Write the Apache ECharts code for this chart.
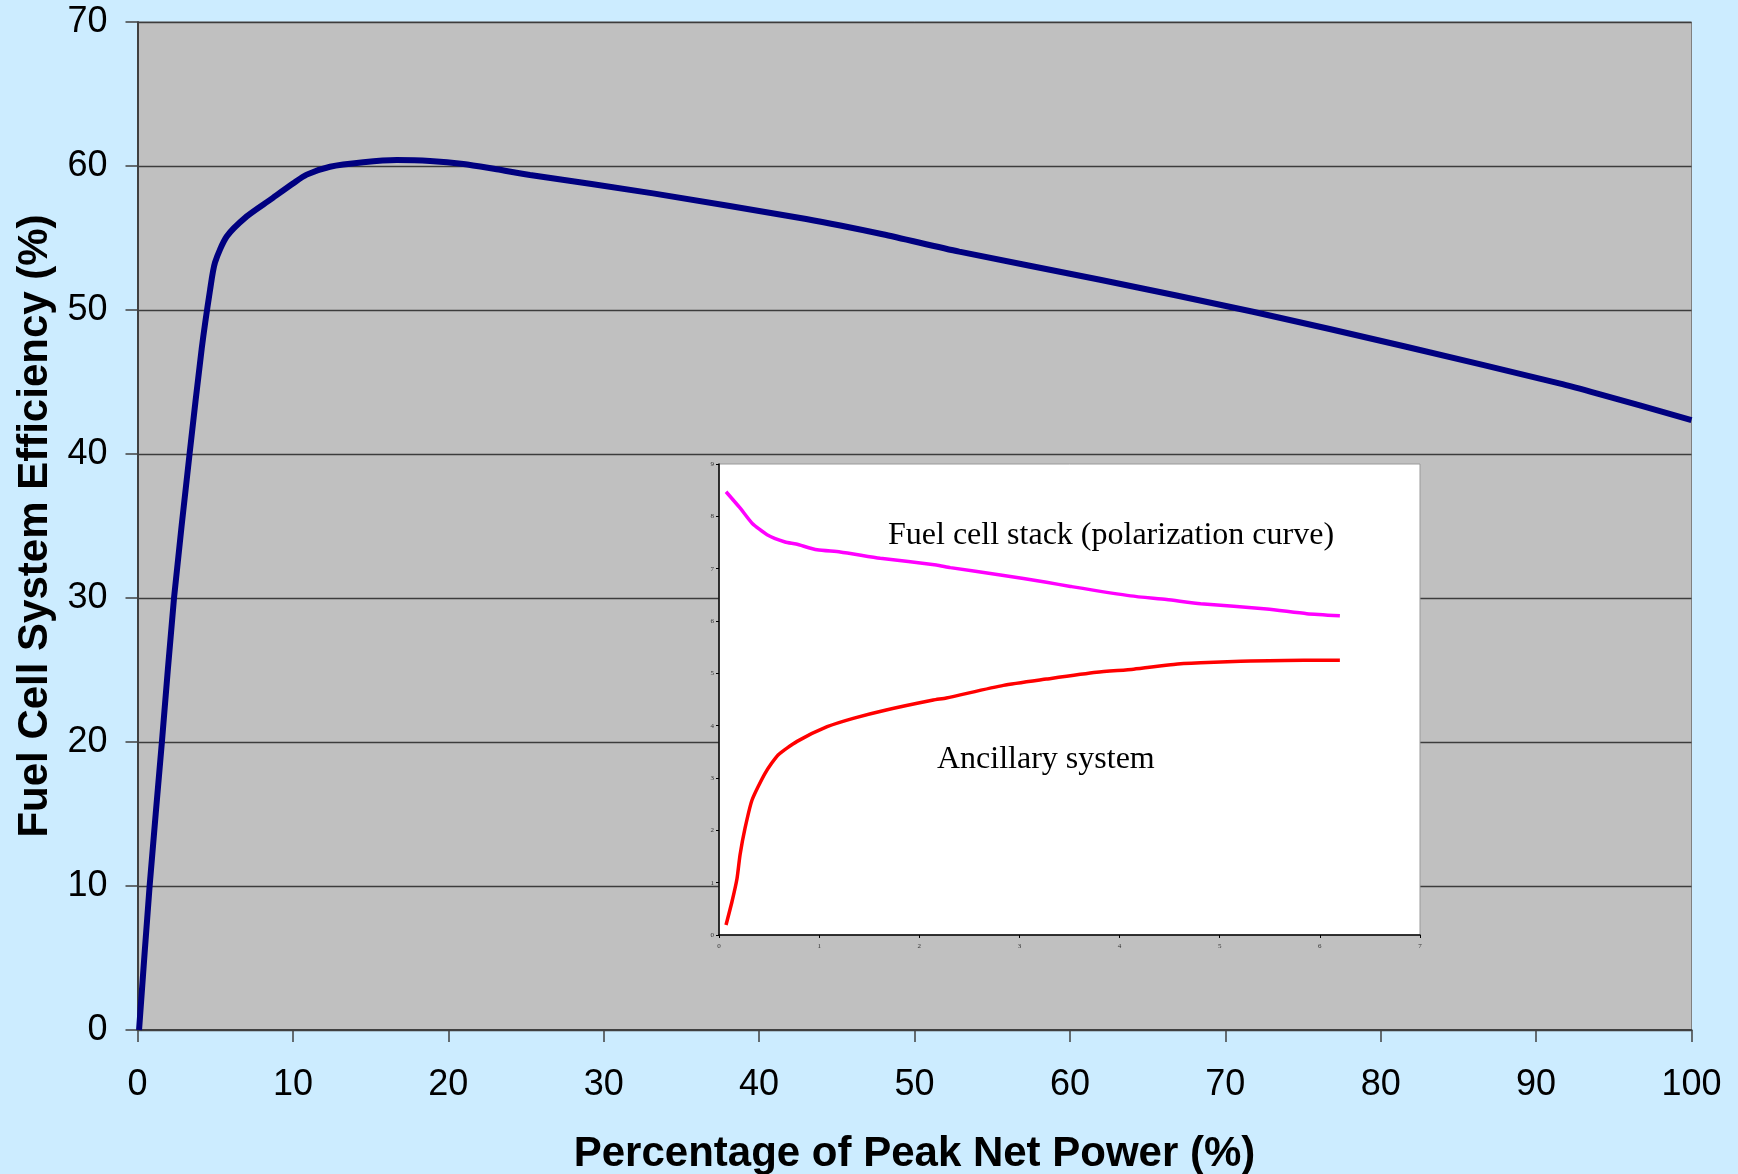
<!DOCTYPE html>
<html>
<head>
<meta charset="utf-8">
<style>
  html, body { margin: 0; padding: 0; background: #CCECFF; width: 1738px; height: 1174px; overflow: hidden; }
  #chart { width: 1738px; height: 1174px; overflow: hidden; }
</style>
<script src="https://cdn.jsdelivr.net/npm/echarts@6/dist/echarts.min.js"></script>
</head>
<body>
<div id="chart"></div>
<script>
// Main curve: fuel cell system efficiency vs. percentage of peak net power
const mainX = [0.1, 0.78, 1.57, 2.35, 3.35, 4.13, 4.67, 4.99, 5.74, 7.03, 8.53, 10.03, 10.89, 12.39, 14.53, 16.68, 18.82, 20.97, 23.11, 25.26, 33.18, 43.03, 47.95, 52.88, 61.94, 71.78, 81.64, 91.49, 93.95, 100];
const mainY = [0, 10, 20, 30, 40, 47.3, 51.4, 53.3, 55.1, 56.5, 57.65, 58.8, 59.4, 59.95, 60.26, 60.41, 60.35, 60.14, 59.77, 59.38, 58.1, 56.32, 55.26, 54.05, 52.1, 49.88, 47.45, 44.91, 44.2, 42.36];

// Inset: fuel cell stack (polarization curve)
const stackX = [0.07, 0.21, 0.33, 0.48, 0.66, 0.77, 0.98, 1.21, 1.61, 2.17, 2.31, 2.81, 3.27, 3.51, 4.11, 4.47, 4.81, 5.47, 5.87, 6.20];
const stackY = [8.47, 8.16, 7.87, 7.65, 7.51, 7.47, 7.36, 7.32, 7.20, 7.07, 7.02, 6.88, 6.74, 6.66, 6.48, 6.41, 6.33, 6.23, 6.14, 6.10];

// Inset: ancillary system
const ancX = [0.07, 0.13, 0.18, 0.21, 0.26, 0.33, 0.46, 0.59, 0.78, 1.08, 1.34, 1.67, 2.14, 2.27, 2.84, 3.27, 3.77, 4.14, 4.54, 4.81, 5.21, 5.84, 6.20];
const ancY = [0.19, 0.64, 1.08, 1.53, 2.04, 2.58, 3.09, 3.44, 3.70, 3.98, 4.14, 4.30, 4.49, 4.53, 4.77, 4.89, 5.02, 5.08, 5.17, 5.20, 5.23, 5.25, 5.25];

const xTitle = 'Percentage of Peak Net Power (%)';
const yTitle = 'Fuel Cell System Efficiency (%)';
const stackLabel = 'Fuel cell stack (polarization curve)';
const ancLabel = 'Ancillary system';

function zip(a, b) { return a.map((v, i) => [v, b[i]]); }

const chart = echarts.init(document.getElementById('chart'), null, { renderer: 'canvas', width: 1738, height: 1174 });
const sans = '"Liberation Sans", Arial, sans-serif';
const serif = '"Liberation Serif", "Times New Roman", serif';

chart.setOption({
  backgroundColor: '#CCECFF',
  animation: false,
  grid: [
    { left: 137.5, top: 22, width: 1554, height: 1008, show: true, backgroundColor: '#C0C0C0', borderColor: '#808080', borderWidth: 1, z: 0, containLabel: false, outerBoundsMode: 'none' },
    { left: 719, top: 464, width: 701, height: 471, show: true, backgroundColor: '#FFFFFF', borderColor: '#9A9A9A', borderWidth: 1, z: 5, containLabel: false, outerBoundsMode: 'none' }
  ],
  xAxis: [
    {
      gridIndex: 0, type: 'value', min: 0, max: 100, interval: 10,
      name: xTitle, nameLocation: 'middle', nameGap: 103,
      nameTextStyle: { fontFamily: sans, fontWeight: 'bold', fontSize: 42, color: '#000' },
      axisLine: { show: true, lineStyle: { color: '#404040', width: 2 } },
      axisTick: { show: true, inside: false, length: 12, lineStyle: { color: '#404040', width: 1.5 } },
      axisLabel: { fontFamily: sans, fontSize: 36, color: '#000', margin: 37 },
      splitLine: { show: false }
    },
    {
      gridIndex: 1, type: 'value', min: 0, max: 7, interval: 1, z: 6,
      axisLine: { show: true, lineStyle: { color: '#000', width: 1.5 } },
      axisTick: { show: true, length: 3, lineStyle: { color: '#000', width: 1 } },
      axisLabel: { fontFamily: serif, fontSize: 7, color: '#333', margin: 8 },
      splitLine: { show: false }
    }
  ],
  yAxis: [
    {
      gridIndex: 0, type: 'value', min: 0, max: 70, interval: 10,
      name: yTitle, nameLocation: 'middle', nameGap: 81, nameRotate: 90,
      nameTextStyle: { fontFamily: sans, fontWeight: 'bold', fontSize: 42, color: '#000' },
      axisLine: { show: true, lineStyle: { color: '#404040', width: 2 } },
      axisTick: { show: true, inside: false, length: 12, lineStyle: { color: '#404040', width: 1.5 } },
      axisLabel: { fontFamily: sans, fontSize: 36, color: '#000', margin: 30 },
      splitLine: { show: true, lineStyle: { color: '#3C3C3C', width: 1.3 } }
    },
    {
      gridIndex: 1, type: 'value', min: 0, max: 9, interval: 1, z: 6,
      axisLine: { show: true, lineStyle: { color: '#000', width: 1.5 } },
      axisTick: { show: true, length: 3, lineStyle: { color: '#000', width: 1 } },
      axisLabel: { fontFamily: serif, fontSize: 7, color: '#333', margin: 5 },
      splitLine: { show: false }
    }
  ],
  series: [
    {
      type: 'line', xAxisIndex: 0, yAxisIndex: 0, data: zip(mainX, mainY),
      smooth: 0.25, symbol: 'none', lineStyle: { color: '#000080', width: 6 }, z: 3
    },
    {
      type: 'line', xAxisIndex: 1, yAxisIndex: 1, data: zip(stackX, stackY),
      smooth: 0.2, symbol: 'none', lineStyle: { color: '#FF00FF', width: 3.5 }, z: 7
    },
    {
      type: 'line', xAxisIndex: 1, yAxisIndex: 1, data: zip(ancX, ancY),
      smooth: 0.2, symbol: 'none', lineStyle: { color: '#FF0000', width: 3.5 }, z: 7
    }
  ],
  graphic: [
    { type: 'text', z: 100, left: 888, top: 520, style: { text: stackLabel, font: '32px ' + serif, fill: '#000' } },
    { type: 'text', z: 100, left: 937, top: 744, style: { text: ancLabel, font: '32px ' + serif, fill: '#000' } }
  ]
});
</script>
</body>
</html>
